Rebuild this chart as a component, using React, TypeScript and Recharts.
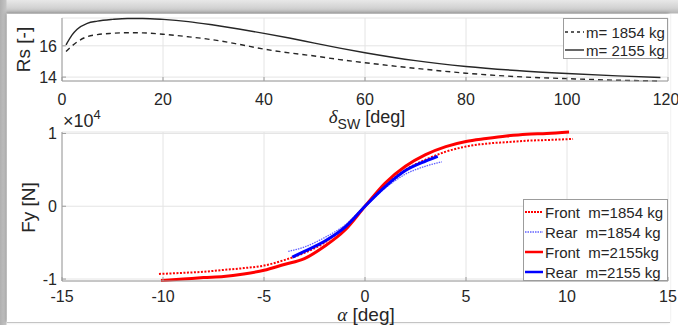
import { CartesianGrid, Legend, Line, LineChart, XAxis, YAxis } from "recharts";

const FONT = '"Liberation Sans", Arial, Helvetica, sans-serif';
const SERIF = '"Liberation Serif", "DejaVu Serif", serif';
const INK = "#262626";
const BOX = "#9c9c9c";
const GRID = "#e4e4e4";

// top panel: steering ratio Rs vs steering wheel angle
const swAngle = [0.8, 2, 3, 5, 7, 10, 13, 16, 20, 25, 30, 35, 40, 45, 50, 55, 60, 70, 80, 90, 100, 110, 118.5];
const rsLight = [15.64, 16.0, 16.25, 16.59, 16.72, 16.8, 16.84, 16.83, 16.74, 16.58, 16.38, 16.1, 15.79, 15.55, 15.35, 15.12, 14.92, 14.56, 14.25, 14.03, 13.9, 13.8, 13.75];
const rsHeavy = [16.06, 16.7, 17.06, 17.44, 17.58, 17.69, 17.75, 17.75, 17.69, 17.55, 17.33, 17.08, 16.8, 16.5, 16.17, 15.85, 15.56, 15.05, 14.68, 14.42, 14.23, 14.08, 13.97];
const swTicks = [0, 20, 40, 60, 80, 100, 120];
const rsTicks = [14, 16];

// bottom panel: lateral force Fy (x10^4 N) vs slip angle
const alphaFrontLight = [-10.2, -9, -8, -7, -6, -5, -4, -3, -2, -1, 0, 1, 2, 3, 4, 5, 6, 7, 8, 9, 10.3];
const fyFrontLight = [-0.93, -0.915, -0.9, -0.875, -0.85, -0.815, -0.74, -0.64, -0.5, -0.28, 0, 0.28, 0.5, 0.64, 0.75, 0.82, 0.86, 0.88, 0.9, 0.91, 0.925];
const alphaRearLight = [-3.8, -3, -2, -1, 0, 1, 2, 3, 3.8];
const fyRearLight = [-0.62, -0.56, -0.43, -0.26, 0, 0.25, 0.44, 0.55, 0.61];
const alphaFrontHeavy = [-10.1, -9, -8, -7, -6, -5, -4, -3, -2, -1, 0, 1, 2, 3, 4, 5, 6, 7, 8, 9, 10.1];
const fyFrontHeavy = [-1.02, -1.0, -0.98, -0.965, -0.93, -0.88, -0.8, -0.72, -0.55, -0.33, 0, 0.32, 0.55, 0.71, 0.82, 0.89, 0.93, 0.965, 0.99, 1.0, 1.02];
const alphaRearHeavy = [-3.6, -3, -2, -1, 0, 1, 2, 3, 3.6];
const fyRearHeavy = [-0.7, -0.62, -0.48, -0.29, 0, 0.27, 0.49, 0.62, 0.685];
const alphaTicks = [-15, -10, -5, 0, 5, 10, 15];
const fyTicks = [-1, 0, 1];

const zip = (xs: number[], ys: number[]) => xs.map((x, i) => ({ x, y: ys[i] }));

const topSeries = [
  { name: "m= 1854 kg", data: zip(swAngle, rsLight), stroke: INK, width: 1.4, dash: "5 4", sampleDash: "3 3", opacity: 1 },
  { name: "m= 2155 kg", data: zip(swAngle, rsHeavy), stroke: INK, width: 1.4, dash: undefined, sampleDash: undefined, opacity: 1 },
];

const bottomSeries = [
  { name: "Front  m=1854 kg", data: zip(alphaFrontLight, fyFrontLight), stroke: "#ff0000", width: 2, dash: "2 1.5", sampleDash: "2 1", opacity: 1 },
  { name: "Rear  m=1854 kg", data: zip(alphaRearLight, fyRearLight), stroke: "#3b3bff", width: 1.3, dash: "1.5 1", sampleDash: "1.5 1", opacity: 0.8 },
  { name: "Front  m=2155kg", data: zip(alphaFrontHeavy, fyFrontHeavy), stroke: "#ff0000", width: 3, dash: undefined, sampleDash: undefined, opacity: 1 },
  { name: "Rear  m=2155 kg", data: zip(alphaRearHeavy, fyRearHeavy), stroke: "#0000ff", width: 3, dash: undefined, sampleDash: undefined, opacity: 1 },
];

type Item = { name: string; stroke: string; width: number; sampleDash?: string; opacity: number };

function LegendBox({ items, rowHeight, padTop, sample }: { items: Item[]; rowHeight: number; padTop: number; sample: number }) {
  return (
    <div
      style={{
        width: "100%",
        height: "100%",
        boxSizing: "border-box",
        background: "#fff",
        border: `1px solid ${BOX}`,
        paddingTop: padTop,
        paddingLeft: 1,
        fontFamily: FONT,
        fontSize: 15,
        color: INK,
      }}
    >
      {items.map((it) => (
        <div key={it.name} style={{ display: "flex", alignItems: "center", height: rowHeight }}>
          <svg width={sample} height={6} style={{ display: "block" }}>
            <line x1={0} y1={3} x2={sample} y2={3} stroke={it.stroke} strokeWidth={Math.min(it.width, 2.5)} strokeDasharray={it.sampleDash} strokeOpacity={it.opacity} />
          </svg>
          <span style={{ marginLeft: 2, whiteSpace: "pre", lineHeight: 1 }}>{it.name}</span>
        </div>
      ))}
    </div>
  );
}

const tickStyle = { fill: INK, fontSize: 16, fontFamily: FONT };

function TopChart() {
  return (
    <LineChart width={678} height={132} margin={{ top: 18, right: 10, left: 22, bottom: 0 }}>
      <CartesianGrid stroke={GRID} />
      <XAxis
        dataKey="x"
        type="number"
        domain={[0, 120]}
        ticks={swTicks}
        height={51}
        stroke={BOX}
        tickSize={-4}
        tickMargin={17}
        tick={tickStyle}
        label={{
          content: (p: any) => {
            const vb = p.viewBox ?? {};
            return (
              <text x={vb.x + vb.width / 2 + 2} y={vb.y + 42} textAnchor="middle" fill={INK} fontFamily={FONT}>
                <tspan fontFamily={SERIF} fontStyle="italic" fontSize={19}>δ</tspan>
                <tspan fontSize={14} dy={6}>SW</tspan>
                <tspan fontSize={18} dy={-6}> [deg]</tspan>
              </text>
            );
          },
        }}
      />
      <XAxis xAxisId="box" orientation="top" type="number" domain={[0, 120]} ticks={[]} height={0} stroke={BOX} tick={false} />
      <YAxis
        type="number"
        domain={[13.78, 17.78]}
        ticks={rsTicks}
        width={40}
        stroke={BOX}
        tickSize={-4}
        tickMargin={9}
        tick={tickStyle}
        label={{
          content: (p: any) => {
            const vb = p.viewBox ?? {};
            const cx = vb.x + 8;
            const cy = vb.y + vb.height / 2;
            return (
              <text x={cx} y={cy} transform={`rotate(-90 ${cx} ${cy})`} textAnchor="middle" fill={INK} fontFamily={FONT} fontSize={19}>
                Rs [-]
              </text>
            );
          },
        }}
      />
      <YAxis yAxisId="box" orientation="right" type="number" domain={[13.78, 17.78]} ticks={[]} width={0} stroke={BOX} tick={false} />
      <Legend
        layout="vertical"
        align="center"
        verticalAlign="middle"
        wrapperStyle={{ left: 563, top: 18, width: 105, height: 41 }}
        content={() => <LegendBox items={topSeries} rowHeight={18} padTop={4} sample={19} />}
      />
      {topSeries.map((s) => (
        <Line
          key={s.name}
          data={s.data}
          dataKey="y"
          name={s.name}
          type="monotone"
          stroke={s.stroke}
          strokeWidth={s.width}
          strokeDasharray={s.dash}
          dot={false}
          activeDot={false}
          isAnimationActive={false}
        />
      ))}
    </LineChart>
  );
}

function BottomChart() {
  return (
    <LineChart width={678} height={225} margin={{ top: 32, right: 10, left: 22, bottom: 0 }}>
      <CartesianGrid stroke={GRID} />
      <XAxis
        dataKey="x"
        type="number"
        domain={[-15, 15]}
        ticks={alphaTicks}
        height={44}
        stroke={BOX}
        tickSize={-4}
        tickMargin={13.2}
        tick={tickStyle}
        label={{
          content: (p: any) => {
            const vb = p.viewBox ?? {};
            return (
              <text x={vb.x + vb.width / 2 + 1} y={vb.y + 40} textAnchor="middle" fill={INK} fontFamily={FONT}>
                <tspan fontFamily={SERIF} fontStyle="italic" fontSize={19}>α</tspan>
                <tspan fontSize={19}> [deg]</tspan>
              </text>
            );
          },
        }}
      />
      <XAxis xAxisId="box" orientation="top" type="number" domain={[-15, 15]} ticks={[]} height={0} stroke={BOX} tick={false} />
      <YAxis
        type="number"
        domain={[-1.027, 1.01]}
        ticks={fyTicks}
        width={40}
        stroke={BOX}
        tickSize={-4}
        tickMargin={9}
        tick={tickStyle}
        label={{
          content: (p: any) => {
            const vb = p.viewBox ?? {};
            const cx = vb.x + 13;
            const cy = vb.y + vb.height / 2 + 1;
            return (
              <g>
                <text x={cx} y={cy} transform={`rotate(-90 ${cx} ${cy})`} textAnchor="middle" fill={INK} fontFamily={FONT} fontSize={19}>
                  Fy [N]
                </text>
                <text x={vb.x + vb.width + 1} y={vb.y - 5} fill={INK} fontFamily={FONT} fontSize={18}>
                  ×10
                  <tspan fontSize={13} dy={-8}>4</tspan>
                </text>
              </g>
            );
          },
        }}
      />
      <YAxis yAxisId="box" orientation="right" type="number" domain={[-1.027, 1.01]} ticks={[]} width={0} stroke={BOX} tick={false} />
      <Legend
        layout="vertical"
        align="center"
        verticalAlign="middle"
        wrapperStyle={{ left: 523, top: 99, width: 145, height: 82 }}
        content={() => <LegendBox items={bottomSeries} rowHeight={20} padTop={2} sample={18} />}
      />
      {bottomSeries.map((s) => (
        <Line
          key={s.name}
          data={s.data}
          dataKey="y"
          name={s.name}
          type="monotone"
          stroke={s.stroke}
          strokeWidth={s.width}
          strokeDasharray={s.dash}
          strokeOpacity={s.opacity}
          dot={false}
          activeDot={false}
          isAnimationActive={false}
        />
      ))}
    </LineChart>
  );
}

export default function App() {
  return (
    <div
      style={{
        position: "absolute",
        left: 0,
        top: 0,
        width: 678,
        height: 325,
        overflow: "hidden",
        background:
          "linear-gradient(to right, #b0b0b0 0px, #c4c4c4 6px, rgba(255,255,255,0) 7px), linear-gradient(to bottom, #e8e8e8 0px, #d2d2d2 8px, #b6b6b6 13px, #ffffff 14px)",
      }}
    >
      <div
        style={{
          position: "absolute",
          left: 7,
          top: 14,
          width: 663,
          height: 308,
          background: "#fff",
          borderBottom: "1px solid #c4c4c4",
          boxShadow: "-1px -1px 3px rgba(0,0,0,0.25)",
        }}
      />
      <div style={{ position: "absolute", left: 0, top: 0 }}>
        <TopChart />
      </div>
      <div style={{ position: "absolute", left: 0, top: 100 }}>
        <BottomChart />
      </div>
    </div>
  );
}
